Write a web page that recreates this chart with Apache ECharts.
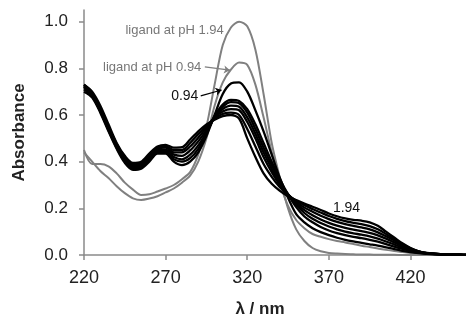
<!DOCTYPE html>
<html>
<head>
<meta charset="utf-8">
<script src="https://cdn.jsdelivr.net/npm/echarts@6/dist/echarts.min.js"></script>
<style>
  html, body { margin: 0; padding: 0; background: #fff; }
  #chart { width: 466px; height: 320px; }
</style>
</head>
<body>
<div id="chart"></div>
<script>
// wavelength grid (nm)
const wavelengths = [220, 225, 230, 235, 240, 245, 250, 255, 260, 265, 270, 275, 280, 285, 290, 295,
  300, 305, 310, 315, 320, 325, 330, 335, 340, 345, 350, 355, 360, 365, 370, 375, 380, 385, 390, 395,
  400, 405, 410, 415, 420, 425, 430, 440, 450, 455];

// free ligand spectra (grey)
const ligand194 = [0.45, 0.39, 0.39, 0.38, 0.35, 0.31, 0.28, 0.257, 0.26, 0.272, 0.285, 0.30, 0.325, 0.355, 0.43, 0.55,
  0.73, 0.90, 0.975, 1.0, 0.98, 0.88, 0.69, 0.48, 0.33, 0.20, 0.11, 0.06, 0.03, 0.016, 0.009, 0.006, 0.004, 0.003, 0.002, 0.002,
  0.001, 0.001, 0.001, 0, 0, 0, 0, 0, 0, 0];
const ligand094 = [0.44, 0.40, 0.36, 0.33, 0.295, 0.265, 0.243, 0.236, 0.242, 0.252, 0.268, 0.285, 0.31, 0.34, 0.40, 0.50,
  0.64, 0.74, 0.795, 0.825, 0.815, 0.73, 0.59, 0.44, 0.31, 0.21, 0.15, 0.115, 0.09, 0.078, 0.068, 0.06, 0.054, 0.047, 0.04, 0.034,
  0.028, 0.022, 0.017, 0.013, 0.009, 0.006, 0.004, 0.002, 0.001, 0];

// complex spectra (black), pH 0.94 -> 1.94
const complex094 = [0.70, 0.675, 0.61, 0.53, 0.455, 0.395, 0.365, 0.37, 0.40, 0.435, 0.435, 0.40, 0.385, 0.40, 0.44, 0.51,
  0.60, 0.69, 0.735, 0.74, 0.70, 0.62, 0.53, 0.43, 0.33, 0.245, 0.175, 0.14, 0.115, 0.098, 0.085, 0.074, 0.065, 0.058, 0.052, 0.046,
  0.04, 0.033, 0.025, 0.018, 0.012, 0.008, 0.005, 0.002, 0.001, 0];
const complex110 = [0.71, 0.68, 0.615, 0.535, 0.46, 0.40, 0.37, 0.375, 0.41, 0.44, 0.44, 0.41, 0.40, 0.415, 0.455, 0.52,
  0.595, 0.645, 0.665, 0.66, 0.625, 0.56, 0.48, 0.40, 0.325, 0.26, 0.205, 0.165, 0.14, 0.12, 0.105, 0.094, 0.085, 0.078, 0.072, 0.065,
  0.057, 0.047, 0.036, 0.026, 0.017, 0.01, 0.006, 0.002, 0.001, 0];
const complex125 = [0.72, 0.685, 0.62, 0.54, 0.465, 0.405, 0.375, 0.38, 0.415, 0.445, 0.445, 0.42, 0.41, 0.43, 0.47, 0.525,
  0.59, 0.635, 0.655, 0.65, 0.61, 0.54, 0.46, 0.385, 0.315, 0.26, 0.215, 0.18, 0.155, 0.137, 0.122, 0.11, 0.10, 0.093, 0.087, 0.08,
  0.07, 0.058, 0.045, 0.032, 0.021, 0.012, 0.007, 0.002, 0.001, 0];
const complex140 = [0.72, 0.69, 0.625, 0.545, 0.47, 0.41, 0.38, 0.385, 0.42, 0.45, 0.452, 0.43, 0.425, 0.448, 0.487, 0.535,
  0.59, 0.625, 0.64, 0.635, 0.59, 0.52, 0.44, 0.37, 0.305, 0.26, 0.222, 0.192, 0.17, 0.152, 0.138, 0.126, 0.116, 0.109, 0.102, 0.095,
  0.084, 0.07, 0.054, 0.038, 0.024, 0.014, 0.008, 0.003, 0.001, 0];
const complex155 = [0.73, 0.695, 0.63, 0.55, 0.475, 0.415, 0.385, 0.39, 0.425, 0.455, 0.46, 0.44, 0.44, 0.465, 0.503, 0.545,
  0.59, 0.615, 0.625, 0.62, 0.57, 0.50, 0.42, 0.355, 0.30, 0.258, 0.228, 0.203, 0.185, 0.168, 0.154, 0.142, 0.132, 0.125, 0.118, 0.11,
  0.097, 0.08, 0.062, 0.043, 0.027, 0.015, 0.008, 0.003, 0.001, 0];
const complex175 = [0.725, 0.69, 0.63, 0.55, 0.475, 0.42, 0.39, 0.395, 0.43, 0.46, 0.465, 0.45, 0.45, 0.48, 0.518, 0.552,
  0.585, 0.605, 0.61, 0.60, 0.54, 0.465, 0.39, 0.335, 0.29, 0.258, 0.233, 0.213, 0.197, 0.182, 0.167, 0.155, 0.145, 0.138, 0.132, 0.124,
  0.11, 0.09, 0.068, 0.047, 0.029, 0.016, 0.009, 0.003, 0.001, 0];
const complex194 = [0.73, 0.70, 0.64, 0.56, 0.48, 0.425, 0.395, 0.40, 0.435, 0.465, 0.472, 0.46, 0.462, 0.495, 0.53, 0.56,
  0.58, 0.595, 0.60, 0.585, 0.50, 0.42, 0.35, 0.305, 0.275, 0.252, 0.235, 0.22, 0.207, 0.193, 0.178, 0.166, 0.157, 0.151, 0.147, 0.14,
  0.125, 0.10, 0.075, 0.05, 0.03, 0.016, 0.008, 0.003, 0.001, 0];

// axis ticks
const xTicks = [220, 270, 320, 370, 420];
const yTicks = [0, 0.2, 0.4, 0.6, 0.8, 1.0];

const GREY = '#808080';
const FONT = 'Liberation Sans, Arial, sans-serif';

const toPairs = (vals) => wavelengths.map((w, i) => [w, vals[i]]);

// text annotations, anchored on data coordinates (right edge of text)
const greyNotes = [
  { text: 'ligand at pH 1.94', coord: [306.5, 0.964] },
  { text: 'ligand at pH 0.94', coord: [292.8, 0.802] },
];
const blackNotes = [
  { text: '0.94', coord: [291, 0.682] },
];

function noteLabel(n, color, size) {
  return {
    coord: n.coord,
    symbol: 'circle',
    symbolSize: 1,
    itemStyle: { color: 'rgba(0,0,0,0)' },
    label: {
      show: true, position: 'left', distance: 1, formatter: n.text,
      color, fontSize: size, fontFamily: FONT,
    },
  };
}

const ligandSeries = [ligand194, ligand094].map((vals) => ({
  type: 'line',
  data: toPairs(vals),
  smooth: 0.3,
  showSymbol: false,
  lineStyle: { color: GREY, width: 2 },
  z: 2,
}));

const complexSeries = [complex094, complex110, complex125, complex140, complex155, complex175, complex194]
  .map((vals) => ({
    type: 'line',
    data: toPairs(vals),
    smooth: 0.3,
    showSymbol: false,
    lineStyle: { color: '#000', width: 2.3 },
    z: 3,
  }));

// grey labels + arrow on the ligand curve
ligandSeries[1].markPoint = {
  silent: true,
  data: greyNotes.map((n) => noteLabel(n, '#777', 13)),
};
ligandSeries[1].markLine = {
  silent: true,
  symbol: ['none', 'arrow'],
  symbolSize: 6,
  label: { show: false },
  lineStyle: { color: GREY, width: 1.2, type: 'solid' },
  data: [[{ coord: [294, 0.806] }, { coord: [309.4, 0.792] }]],
};

// black labels + arrow on the complex curves
complexSeries[0].markPoint = {
  silent: true,
  data: blackNotes.map((n) => noteLabel(n, '#111', 14)),
};
complexSeries[0].markLine = {
  silent: true,
  symbol: ['none', 'arrow'],
  symbolSize: 6,
  label: { show: false },
  lineStyle: { color: '#000', width: 1.2, type: 'solid' },
  data: [[{ coord: [291.5, 0.682] }, { coord: [304.3, 0.707] }]],
};
complexSeries[6].markPoint = {
  silent: true,
  symbol: 'circle',
  symbolSize: 1,
  itemStyle: { color: 'rgba(0,0,0,0)' },
  label: {
    show: true, position: 'inside', formatter: '1.94',
    color: '#111', fontSize: 14, fontFamily: FONT,
  },
  data: [{ coord: [380.8, 0.2] }],
};

const chart = echarts.init(document.getElementById('chart'), null, { renderer: 'canvas' });
chart.setOption({
  animation: false,
  backgroundColor: '#fff',
  grid: { left: 84, right: 0, top: 10, bottom: 65, outerBoundsMode: 'none' },
  xAxis: {
    type: 'value',
    min: 220,
    max: 454,
    name: 'λ / nm',
    nameLocation: 'middle',
    nameGap: 46,
    nameTextStyle: { fontSize: 17, fontWeight: 'bold', color: '#222', fontFamily: FONT, padding: [0, 30, 0, 0] },
    axisLine: { lineStyle: { color: '#8a8a8a', width: 1.5 } },
    axisTick: { customValues: xTicks, length: 5, inside: false, lineStyle: { color: '#8a8a8a', width: 1.5 } },
    axisLabel: { customValues: xTicks, fontSize: 18, color: '#222', fontFamily: FONT, margin: 14 },
    splitLine: { show: false },
  },
  yAxis: {
    type: 'value',
    min: 0,
    max: 1.05,
    name: 'Absorbance',
    nameLocation: 'middle',
    nameGap: 56,
    nameTextStyle: { fontSize: 17, fontWeight: 'bold', color: '#222', fontFamily: FONT },
    axisLine: { show: true, lineStyle: { color: '#8a8a8a', width: 1.5 } },
    axisTick: { show: true, customValues: yTicks, length: 5, lineStyle: { color: '#8a8a8a', width: 1.5 } },
    axisLabel: {
      customValues: yTicks, fontSize: 17, color: '#222', fontFamily: FONT, margin: 16,
      formatter: (v) => v.toFixed(1),
    },
    splitLine: { show: false },
  },
  series: [...ligandSeries, ...complexSeries],
});
</script>
</body>
</html>
